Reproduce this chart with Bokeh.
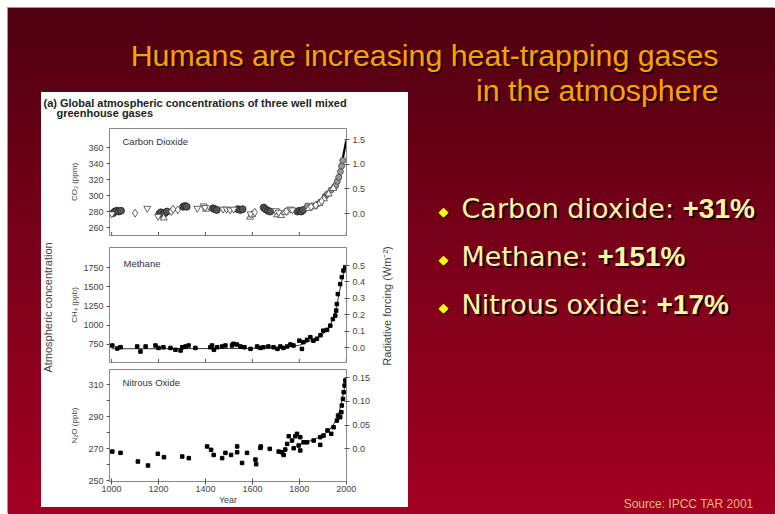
import math
from bokeh.plotting import figure
from bokeh.models import (Range1d, LinearAxis, FixedTicker, PrintfTickFormatter,
                          Label, GridBox, Column)
from bokeh.embed import file_html
from bokeh.resources import INLINE

FONT = "Liberation Sans"

# ---------------- data ----------------
x_ticks = [1000, 1200, 1400, 1600, 1800, 2000]

# CO2 (ppm)
co2_circle_year = [1006, 1014, 1022, 1030, 1040, 1203, 1210, 1218, 1226, 1236, 1305, 1312, 1320,
                   1432, 1440, 1448, 1538, 1548, 1558, 1648, 1656, 1666, 1676, 1792, 1800, 1808, 1816]
co2_circle_ppm = [278, 280, 281, 280, 281, 277, 279, 276, 278, 280, 286, 287, 286,
                  284, 283, 282, 283, 282, 283, 285, 283, 281, 280, 280, 281, 280, 282]
co2_tri_year = [1222, 1402, 1590, 1598, 1705, 1722, 1738, 1840, 1862, 1885, 1905, 1925, 1945]
co2_tri_ppm = [272, 283, 273, 276, 276, 275, 279, 284, 286, 290, 296, 302, 309]
co2_inv_year = [1001, 1152, 1198, 1365, 1392, 1398, 1475, 1490, 1505, 1520, 1592, 1700, 1712, 1762, 1770]
co2_inv_ppm = [277, 284, 274, 284, 287, 285, 283, 283, 282, 283, 277, 281, 279, 283, 282]
co2_dia_year = [1100, 1255, 1262, 1282, 1610, 1745, 1850, 1870, 1895]
co2_dia_ppm = [278, 280, 283, 282, 279, 280, 286, 288, 293]
co2_firn_year = [1834, 1855, 1875, 1890, 1910, 1920, 1935, 1950, 1955, 1962, 1968, 1975, 1980, 1985]
co2_firn_ppm = [287, 287, 289, 292, 299, 302, 307, 311, 313, 318, 323, 330, 337, 344]
co2_line_year = [1780, 1800, 1825, 1850, 1875, 1900, 1925, 1950, 1960, 1970, 1980, 1990, 2000]
co2_line_ppm = [279, 282, 284, 286, 289, 295, 303, 311, 316, 325, 338, 354, 369]
co2_ticks = [260, 280, 300, 320, 340, 360]
co2_rf_ticks = [0.0, 0.5, 1.0, 1.5]

# CH4 (ppb)
ch4_year = [1003, 1024, 1038, 1109, 1123, 1145, 1187, 1200, 1221, 1251, 1272, 1294, 1301, 1315, 1328,
            1357, 1421, 1428, 1436, 1450, 1471, 1485, 1513, 1519, 1534, 1549, 1566, 1592, 1620, 1634,
            1647, 1668, 1690, 1707, 1719, 1732, 1748, 1762, 1775, 1800, 1811, 1817, 1833, 1847, 1860,
            1875, 1890, 1902, 1918, 1932, 1943, 1953, 1957, 1960, 1964, 1974, 1981, 1988, 1996]
ch4_ppb = [737, 698, 715, 724, 659, 724, 737, 705, 714, 705, 681, 672, 714, 724, 737,
           705, 714, 737, 681, 714, 724, 737, 737, 759, 750, 724, 714, 693, 724, 705,
           714, 724, 714, 693, 724, 705, 724, 750, 737, 800, 693, 780, 810, 845, 800,
           825, 870, 930, 940, 995, 1080, 1125, 1190, 1275, 1405, 1535, 1625, 1710, 1755]
ch4_line_year = [1000, 1200, 1400, 1600, 1700, 1750, 1800, 1850, 1900, 1925, 1950, 1960, 1970, 1980, 1990, 2000]
ch4_line_ppb = [695, 695, 697, 700, 705, 715, 740, 800, 880, 960, 1130, 1260, 1420, 1560, 1690, 1760]
ch4_ticks = [750, 1000, 1250, 1500, 1750]
ch4_rf_ticks = [0.0, 0.1, 0.2, 0.3, 0.4, 0.5]

# N2O (ppb)
n2o_year = [1003, 1038, 1112, 1155, 1197, 1223, 1301, 1329, 1407, 1424, 1435, 1471, 1485, 1509, 1535,
            1535, 1556, 1577, 1613, 1616, 1634, 1636, 1674, 1712, 1726, 1733, 1740, 1748, 1755, 1769,
            1776, 1783, 1790, 1797, 1804, 1804, 1818, 1833, 1861, 1889, 1889, 1903, 1920, 1936, 1946,
            1960, 1965, 1974, 1979, 1981, 1986, 1989, 1993, 1996]
n2o_ppb = [268.1, 267.3, 261.9, 259.4, 266.7, 264.6, 265.0, 264.0, 271.3, 269.2, 266.0, 264.0, 267.3, 266.0, 267.7,
           271.3, 261.0, 267.3, 263.1, 260.2, 270.4, 271.3, 269.8, 268.1, 267.7, 266.0, 269.4, 272.9, 277.7, 275.0,
           270.2, 277.7, 279.2, 271.9, 277.1, 268.8, 273.9, 273.9, 275.0, 277.1, 272.3, 278.1, 281.3, 279.2, 283.3,
           287.5, 290.6, 289.6, 292.7, 296.9, 301.0, 305.2, 309.4, 312.5]
n2o_line_year = [1790, 1800, 1825, 1850, 1875, 1900, 1925, 1950, 1960, 1970, 1980, 1990, 2000]
n2o_line_ppb = [271.5, 272.5, 273.5, 275.0, 276.5, 278.5, 281.0, 286.0, 289.0, 293.0, 299.0, 306.0, 314.0]
n2o_ticks = [250, 270, 290, 310]
n2o_minor = [260, 280, 300]
n2o_rf_ticks = [0.0, 0.05, 0.10, 0.15]

title_lines = ["Humans are increasing heat-trapping gases", "in the atmosphere"]
bullet_names = ["Carbon dioxide: ", "Methane: ", "Nitrous oxide: "]
bullet_values = ["+31%", "+151%", "+17%"]
header_lines = ["(a) Global atmospheric concentrations of three well mixed", "greenhouse gases"]
left_title = "Atmospheric concentration"
right_title = "Radiative forcing (Wm\u207b\u00b2)"
source_text = "Source: IPCC TAR 2001"

# ---------------- helpers ----------------
GRID_C = "#8a8a8a"
X_RANGE = (991, 2001)


def style_axis(ax):
    ax.axis_line_color = GRID_C
    ax.major_tick_line_color = "#555555"
    ax.minor_tick_line_color = "#555555"
    ax.major_label_text_font = FONT
    ax.major_label_text_font_size = "9px"
    ax.major_label_text_color = "#444444"
    ax.axis_label_text_font = FONT
    ax.axis_label_text_font_size = "8px"
    ax.axis_label_text_font_style = "normal"
    ax.axis_label_text_color = "#444444"


def panel(height, bt, bb, yr, rr, show_x, frame_h):
    p = figure(width=367, height=height, x_range=Range1d(*X_RANGE), y_range=Range1d(*yr),
               output_backend="svg", toolbar_location=None,
               x_axis_location="below" if show_x else None,
               min_border_left=68, min_border_right=62, min_border_top=bt, min_border_bottom=bb,
               background_fill_color="white", border_fill_color="white",
               outline_line_color=GRID_C)
    p.grid.visible = False
    p.extra_y_ranges = {"rf": Range1d(*rr)}
    if show_x:
        xa = p.xaxis[0]
        style_axis(xa)
        xa.ticker = FixedTicker(ticks=x_ticks)
        xa.major_tick_in = 3
        xa.major_tick_out = 3
        xa.minor_tick_line_color = None
        xa.axis_label = "Year"
        xa.axis_label_text_font_size = "9px"
        xa.major_label_standoff = 1
        xa.axis_label_standoff = 0
    else:
        # small inward tick marks along the bottom edge of the upper panels
        tick_len = 3.5 * (yr[1] - yr[0]) / frame_h
        p.segment(x0=x_ticks, y0=[yr[0]] * len(x_ticks), x1=x_ticks,
                  y1=[yr[0] + tick_len] * len(x_ticks), line_color="#555555", line_width=1)
    ya = p.yaxis[0]
    style_axis(ya)
    ya.major_tick_in = 0
    ya.major_tick_out = 3
    ya.major_label_standoff = 3
    ya.minor_tick_line_color = None
    return p


def add_rf_axis(p, ticks, fmt, overrides=None):
    ax = LinearAxis(y_range_name="rf", ticker=FixedTicker(ticks=ticks),
                    formatter=PrintfTickFormatter(format=fmt))
    style_axis(ax)
    ax.major_tick_in = 2
    ax.major_tick_out = 3
    ax.major_label_standoff = 3
    ax.minor_tick_line_color = None
    if overrides:
        ax.major_label_overrides = overrides
    p.add_layout(ax, "right")
    return ax


def panel_label(p, text, x, y):
    # screen units are measured from the frame's lower-left corner
    p.add_layout(Label(x=x, y=y, x_units="screen", y_units="screen", text=text,
                       text_font=FONT, text_font_size="9.5px", text_color="#333333",
                       text_baseline="middle"))


# ---------------- CO2 ----------------
f1 = panel(149, 36, 6, (250, 384), (-0.446, 1.724), False, 107)
f1.yaxis[0].ticker = FixedTicker(ticks=co2_ticks)
f1.yaxis[0].axis_label = "CO\u2082 (ppm)"
f1.yaxis[0].axis_label_standoff = 6
add_rf_axis(f1, co2_rf_ticks, "%.1f")
f1.line(co2_line_year, co2_line_ppm, line_color="black", line_width=2.2)
f1.scatter(co2_circle_year, co2_circle_ppm, marker="circle", size=7,
           fill_color="#555555", line_color="#222222", line_width=0.8)
f1.scatter(co2_firn_year, co2_firn_ppm, marker="circle", size=6,
           fill_color="#999999", line_color="#444444", line_width=0.8)
f1.scatter(co2_tri_year, co2_tri_ppm, marker="triangle", size=7,
           fill_color="white", line_color="#555555", line_width=0.9)
f1.scatter(co2_inv_year, co2_inv_ppm, marker="inverted_triangle", size=7,
           fill_color="white", line_color="#555555", line_width=0.9)
f1.scatter(co2_dia_year, co2_dia_ppm, marker="diamond", size=8,
           fill_color="white", line_color="#555555", line_width=0.9)
panel_label(f1, "Carbon Dioxide", 13, 94)

# ---------------- CH4 ----------------
f2 = panel(125, 6, 4, (516, 2010), (-0.091, 0.61), False, 115)
f2.yaxis[0].ticker = FixedTicker(ticks=ch4_ticks)
f2.yaxis[0].axis_label = "CH\u2084 (ppb)"
f2.yaxis[0].axis_label_standoff = 1
add_rf_axis(f2, ch4_rf_ticks, "%.1f")
f2.line(ch4_line_year, ch4_line_ppb, line_color="#333333", line_width=1)
f2.scatter(ch4_year, ch4_ppb, marker="square", size=3.5, fill_color="black", line_color="black")
panel_label(f2, "Methane", 14, 99)

# ---------------- N2O ----------------
f3 = panel(141, 3, 26, (249.4, 319.4), (-0.069, 0.167), True, 112)
f3.yaxis[0].ticker = FixedTicker(ticks=n2o_ticks, minor_ticks=n2o_minor)
f3.yaxis[0].minor_tick_line_color = "#555555"
f3.yaxis[0].minor_tick_out = 3
f3.yaxis[0].minor_tick_in = 0
f3.yaxis[0].axis_label = "N\u2082O (ppb)"
f3.yaxis[0].axis_label_standoff = 6
add_rf_axis(f3, n2o_rf_ticks, "%.2f", overrides={0: "0.0"})
f3.line(n2o_line_year, n2o_line_ppb, line_color="#333333", line_width=1)
f3.scatter(n2o_year, n2o_ppb, marker="square", size=3.5, fill_color="black", line_color="black")
panel_label(f3, "Nitrous Oxide", 13, 99)

chart = Column(children=[f1, f2, f3], spacing=0, styles={"background": "white"})


# ---------------- slide-wide canvases (background texts, overlay texts) ----------------
def slide_canvas():
    c = figure(width=767, height=506, x_range=Range1d(0, 767), y_range=Range1d(0, 506),
               x_axis_type=None, y_axis_type=None, min_border=0,
               output_backend="svg", toolbar_location=None,
               background_fill_alpha=0, border_fill_alpha=0, outline_line_color=None)
    c.grid.visible = False
    return c


bg = slide_canvas()
ov = slide_canvas()


def slide_text(c, txt, x, y, size, color, font=FONT, style="normal", align="left",
               shadow="#1a0005", off=2, angle=0):
    if shadow:
        c.add_layout(Label(x=x + off, y=y - off, x_units="screen", y_units="screen", text=txt,
                           text_font=font, text_font_size=size, text_font_style=style,
                           text_color=shadow, text_align=align, text_baseline="middle"))
    c.add_layout(Label(x=x, y=y, x_units="screen", y_units="screen", text=txt, angle=angle,
                       text_font=font, text_font_size=size, text_font_style=style,
                       text_color=color, text_align=align, text_baseline="middle"))


slide_text(bg, title_lines[0], 710, 459.5, "30.3px", "#ffa000", align="right")
slide_text(bg, title_lines[1], 710, 424.5, "30.3px", "#ffa000", align="right")

bullet_y = [306.5, 258.5, 210.5]
value_x = [674, 589, 648]
for name, val, yy, vx in zip(bullet_names, bullet_values, bullet_y, value_x):
    slide_text(bg, "\u25c6", 435, yy - 3, "13px", "#ffff00", font="DejaVu Sans",
               align="center", off=1)
    slide_text(bg, name, 453, yy, "27px", "#fbf5a6", font="DejaVu Sans", off=2)
    slide_text(bg, val, vx, yy, "28px", "#fbf5a6", style="bold", off=2)

slide_text(bg, source_text, 745, 11, "12px", "#e8b878", align="right", shadow=None)

# texts that sit on the white chart panel
slide_text(ov, header_lines[0], 35, 412, "11px", "#222222", style="bold", shadow=None)
slide_text(ov, header_lines[1], 48, 402, "11px", "#222222", style="bold", shadow=None)
slide_text(ov, left_title, 39, 207, "11px", "#444444", align="center", shadow=None,
           angle=math.pi / 2)
slide_text(ov, right_title, 378, 208.5, "11px", "#444444", align="center", shadow=None,
           angle=math.pi / 2)

grid = GridBox(children=[(bg, 0, 0, 2, 3), (chart, 1, 1), (ov, 0, 0, 2, 3)],
               rows=["84px", "422px"], cols=["33px", "367px", "367px"],
               margin=(8, 0, 0, 8),
               styles={"background": "linear-gradient(180deg, #4e0011 0%, #6e0016 35%, #a40023 100%)",
                       "box-shadow": "-1px -1px 0 0 #9a9a9a"})

open("out.html", "w").write(file_html(grid, INLINE))
